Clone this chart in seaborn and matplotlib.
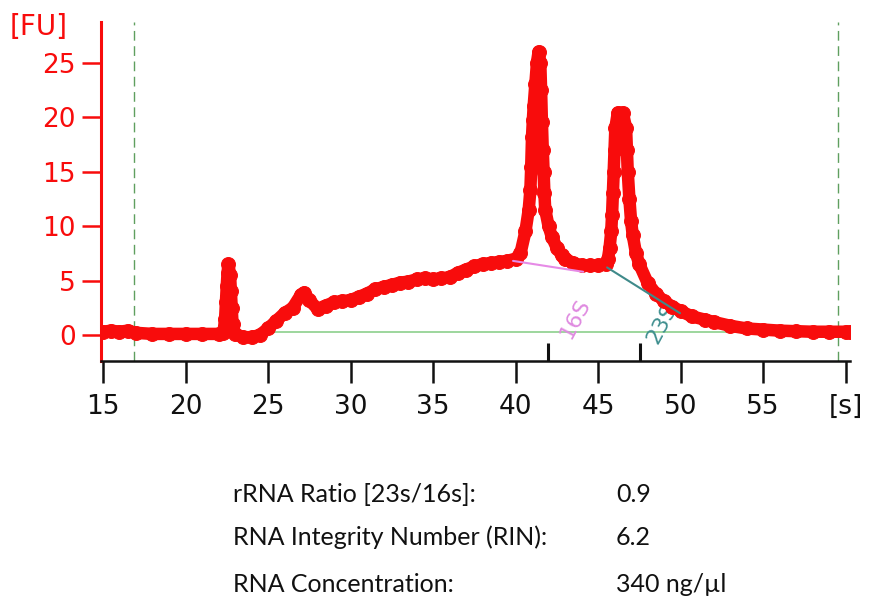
import numpy as np
import pandas as pd
import matplotlib
matplotlib.use("Agg")
import matplotlib.pyplot as plt
import seaborn as sns

# Electropherogram trace: migration time [s] and fluorescence [FU]
time_s = [15.0, 15.5, 16.0, 16.5, 17.0, 18.0, 19.0, 20.0, 21.0, 22.0, 22.3,
          22.4, 22.45, 22.5, 22.55, 22.6, 22.7, 22.75, 22.8, 22.85, 23.0,
          23.5, 24.0, 24.5, 25.0, 25.5, 26.0, 26.5, 27.0, 27.2, 27.5, 28.0,
          28.5, 29.0, 29.5, 30.0, 30.5, 31.0, 31.5, 32.0, 32.5, 33.0, 33.5,
          34.0, 34.5, 35.0, 35.5, 36.0, 36.5, 37.0, 37.5, 38.0, 38.5, 39.0,
          39.5, 40.0, 40.3, 40.6, 40.8, 40.9, 40.95, 41.0, 41.05, 41.1, 41.2,
          41.3, 41.4, 41.5, 41.55, 41.6, 41.65, 41.7, 41.75, 41.8, 42.0,
          42.2, 42.5, 42.8, 43.0, 43.5, 44.0, 44.5, 45.0, 45.5, 45.6, 45.7,
          45.8, 45.85, 45.9, 45.95, 46.0, 46.05, 46.2, 46.5, 46.7, 46.75,
          46.8, 46.9, 47.0, 47.1, 47.3, 47.5, 48.0, 48.5, 49.0, 49.5, 50.0,
          50.7, 51.5, 52.0, 53.0, 54.0, 55.0, 56.0, 57.0, 58.0, 59.0, 60.0,
          60.3]
fluorescence = [0.3, 0.4, 0.3, 0.4, 0.2, 0.1, 0.1, 0.1, 0.1, 0.1, 0.2,
                1.5, 3.0, 4.5, 5.7, 6.5, 5.5, 4.0, 2.5, 1.0, 0.1,
                -0.2, -0.2, 0.0, 0.6, 1.3, 2.0, 2.5, 3.7, 3.9, 3.2, 2.4,
                2.7, 3.0, 3.1, 3.2, 3.5, 3.8, 4.2, 4.4, 4.6, 4.8, 4.9,
                5.1, 5.2, 5.1, 5.2, 5.3, 5.7, 6.0, 6.3, 6.5, 6.6, 6.7,
                6.8, 7.0, 7.5, 9.5, 11.5, 13.3, 15.4, 18.2, 19.7, 21.0, 23.0,
                25.0, 26.0, 25.0, 22.5, 19.5, 17.0, 15.0, 13.0, 11.5, 10.0,
                9.0, 8.0, 7.3, 7.0, 6.6, 6.4, 6.4, 6.4, 6.5, 7.0, 8.0,
                9.5, 11.0, 13.0, 15.0, 17.0, 19.0, 20.4, 20.4, 19.0, 17.0,
                15.0, 12.5, 10.5, 9.2, 7.5, 6.5, 4.8, 3.8, 3.1, 2.6, 2.2,
                1.7, 1.4, 1.2, 0.85, 0.6, 0.5, 0.4, 0.35, 0.3, 0.3, 0.3,
                0.3]

# Axis ticks
y_ticks = [0, 5, 10, 15, 20, 25]
x_ticks = [15, 20, 25, 30, 35, 40, 45, 50, 55, 60]
x_tick_labels = ["15", "20", "25", "30", "35", "40", "45", "50", "55", "[s]"]

# Analysis window, baseline and peak integration segments
window_start, window_end = 16.88, 59.55
baseline_level = 0.3
peak_16s_base_x = [39.85, 44.1]
peak_16s_base_y = [6.8, 5.8]
peak_23s_base_x = [45.55, 49.97]
peak_23s_base_y = [6.2, 2.0]
fragment_marks = [41.97, 47.55]

# Summary values
summary_labels = ["rRNA Ratio [23s/16s]:", "RNA Integrity Number (RIN):",
                  "RNA Concentration:"]
summary_values = ["0.9", "6.2", "340 ng/\u00b5l"]

sns.set_theme(style="white")
plt.rcParams["font.family"] = ["DejaVu Sans"]

RED = "#f80c0c"
fig = plt.figure(figsize=(8.74, 6.07), dpi=100)
ax = fig.add_axes([101 / 874, (607 - 361) / 607, 749 / 874, 339 / 607])

trace = pd.DataFrame({"time": time_s, "fu": fluorescence})

# baseline and analysis window
ax.plot([window_start, window_end], [baseline_level, baseline_level],
        color="#8ccf8c", lw=1.2, zorder=1)
for xv in (window_start, window_end):
    ax.axvline(xv, color="#5f9f5f", lw=1.0, ls=(0, (7, 4)), zorder=1)

# peak labels (partly covered by the trace)
ax.text(43.6, 1.5, "16S", rotation=62, color="#df8ae0", fontsize=16,
        ha="center", va="center", zorder=2)
ax.text(48.9, 1.1, "23S", rotation=62, color="#3f8f8f", fontsize=16,
        ha="center", va="center", zorder=2)

sns.lineplot(data=trace, x="time", y="fu", ax=ax, color=RED, linewidth=9,
             marker="o", markersize=10, markeredgecolor=RED,
             markerfacecolor=RED, solid_joinstyle="round",
             solid_capstyle="round", zorder=3, legend=False)

ax.plot(peak_16s_base_x, peak_16s_base_y, color="#e68ae6", lw=1.5, zorder=4)
ax.plot(peak_23s_base_x, peak_23s_base_y, color="#3f8a8a", lw=1.5, zorder=4)

ylo, yhi = -2.385, 28.72
for xv in fragment_marks:
    ax.plot([xv, xv], [ylo, -0.75], color="#111111", lw=2.2, zorder=5,
            solid_capstyle="butt")

ax.set_xlim(14.879, 60.27)
ax.set_ylim(ylo, yhi)
ax.set_xlabel("")
ax.set_ylabel("")

ax.set_xticks(x_ticks)
ax.set_xticklabels(x_tick_labels)
ax.set_yticks(y_ticks)
ax.set_yticklabels([str(v) for v in y_ticks])

for side in ("top", "right"):
    ax.spines[side].set_visible(False)
ax.spines["left"].set_color(RED)
ax.spines["left"].set_linewidth(2.2)
ax.spines["bottom"].set_color("#111111")
ax.spines["bottom"].set_linewidth(1.8)

ax.tick_params(axis="x", direction="out", length=16, width=1.8,
               color="#111111", labelcolor="#111111", labelsize=19, pad=8,
               bottom=True)
ax.tick_params(axis="y", direction="out", length=14, width=1.8,
               color=RED, labelcolor=RED, labelsize=19, pad=4, left=True)
ax.grid(False)

fig.text(10 / 874, 1 - 27 / 607, "[FU]", color=RED, fontsize=20,
         ha="left", va="center")

rows_y = [502, 545, 592]
for lab, val, py in zip(summary_labels, summary_values, rows_y):
    fig.text(233 / 874, 1 - py / 607, lab, fontsize=18, family="Lato",
             color="#111111", ha="left", va="baseline")
    fig.text(616 / 874, 1 - py / 607, val, fontsize=18, family="Lato",
             color="#111111", ha="left", va="baseline")

fig.savefig("out.png", dpi=100, facecolor="white")
